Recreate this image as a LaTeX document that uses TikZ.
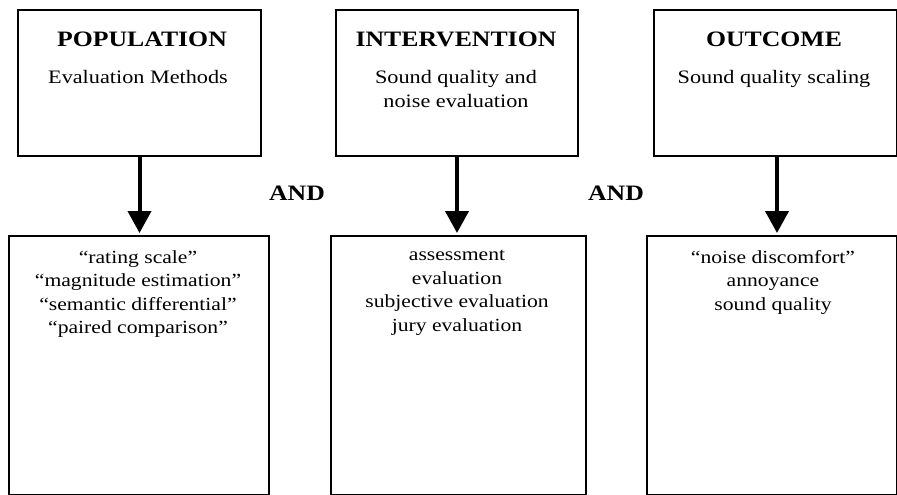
\documentclass[tikz,border=0pt]{standalone}
\usepackage{fontspec}
\setmainfont{Liberation Serif}[FakeStretch=1.17]
\usetikzlibrary{arrows.meta}
\begin{document}
\begin{tikzpicture}[x=1pt,y=-1pt,
  box/.style={draw=black, line width=2pt, rectangle, anchor=north west, inner sep=0pt},
  ttl/.style={anchor=base, inner sep=0pt, font=\fontsize{22}{26}\selectfont\bfseries},
  sub/.style={anchor=north, inner sep=0pt, align=center, font=\fontsize{19}{24}\selectfont},
  items/.style={anchor=north, inner sep=0pt, align=center, font=\fontsize{18.5}{23.5}\selectfont},
  andlbl/.style={anchor=base, inner sep=0pt, font=\fontsize{22}{26}\selectfont\bfseries},
  arr/.style={line width=4pt, -{Triangle[width=23pt,length=22pt]}, shorten >=2pt}]
\useasboundingbox (0,0) rectangle (897,495);
% top boxes
\node[box, minimum width=243pt, minimum height=146pt] (p) at (17,9) {};
\node[box, minimum width=242pt, minimum height=146pt] (i) at (335,9) {};
\node[box, minimum width=243pt, minimum height=146pt] (o) at (653,9) {};
% bottom boxes
\node[box, minimum width=260pt, minimum height=259pt] (pb) at (8,235) {};
\node[box, minimum width=255pt, minimum height=259pt] (ib) at (330,235) {};
\node[box, minimum width=250pt, minimum height=259pt] (ob) at (646,235) {};
% titles
\node[ttl] (pt) at (142,47) {POPULATION};
\node[ttl] (it) at (456,47) {INTERVENTION};
\node[ttl] (ot) at (774,47) {OUTCOME};
% subtitles
\node[sub] (ps) at (138,70) {Evaluation Methods};
\node[sub] (is) at (456,70) {Sound quality and\\noise evaluation};
\node[sub] (os) at (774,70) {Sound quality scaling};
% items
\node[items] (pi) at (138,250) {``rating scale''\\``magnitude estimation''\\``semantic differential''\\``paired comparison''};
\node[items] (ii) at (457,250) {assessment\\evaluation\\subjective evaluation\\jury evaluation};
\node[items] (oi) at (773,250) {``noise discomfort''\\annoyance\\sound quality};
% AND labels
\node[andlbl] (and1) at (297,200) {AND};
\node[andlbl] (and2) at (616,200) {AND};
% arrows
\draw[arr] (p.south) -- (p.south |- pb.north);
\draw[arr] (i.south) -- (i.south |- ib.north);
\draw[arr] ([xshift=1.5pt]o.south) -- ([xshift=1.5pt]o.south |- ob.north);
\end{tikzpicture}
\end{document}
